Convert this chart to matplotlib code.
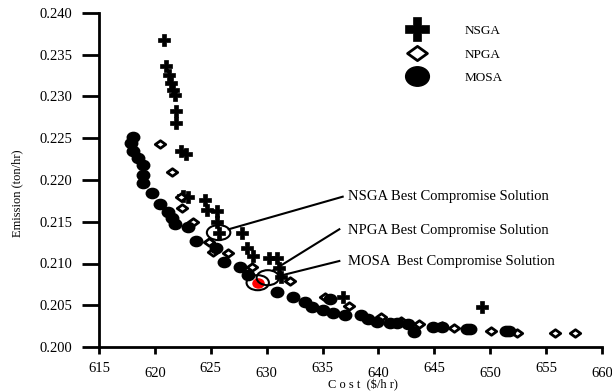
import numpy as np
import matplotlib
matplotlib.use("Agg")
import matplotlib.pyplot as plt
from matplotlib.path import Path
from matplotlib.patches import Ellipse
from matplotlib.transforms import Affine2D, blended_transform_factory

plt.rcParams['font.family'] = ['Liberation Serif', 'DejaVu Serif']

# ---- data ----
nsga_cost = [620.8, 621.0, 621.3, 621.4, 621.6, 621.8, 621.9, 621.9, 622.3, 622.8,
             622.5, 623.0, 624.5, 624.7, 625.6, 625.6, 625.7, 627.8, 628.2, 628.8,
             630.2, 630.9, 631.1, 631.3, 636.8, 649.3]
nsga_emis = [0.2368, 0.2337, 0.2326, 0.2316, 0.2308, 0.2302, 0.2283, 0.2268, 0.2235, 0.2231,
             0.2181, 0.2180, 0.2176, 0.2164, 0.2163, 0.2150, 0.2137, 0.2137, 0.2119, 0.2109,
             0.2107, 0.2107, 0.2095, 0.2084, 0.2060, 0.2048]

npga_cost = [620.5, 621.5, 622.3, 622.4, 623.4, 624.8, 625.2, 626.5, 628.7, 632.1,
             635.2, 637.4, 640.2, 642.0, 643.6, 645.7, 646.8, 650.1, 652.4, 655.8, 657.6]
npga_emis = [0.2243, 0.2210, 0.2180, 0.2166, 0.2150, 0.2126, 0.2114, 0.2113, 0.2096, 0.2079,
             0.2060, 0.2049, 0.2036, 0.2031, 0.2028, 0.2025, 0.2023, 0.2019, 0.2017, 0.2017, 0.2017]

mosa_cost = [618.0, 617.9, 618.0, 618.5, 618.9, 618.9, 618.9, 619.7, 620.5, 621.2,
             621.5, 621.8, 623.0, 623.7, 625.5, 626.2, 627.6, 628.3, 630.9, 632.4,
             633.4, 634.1, 635.0, 635.7, 635.9, 637.0, 638.4, 639.1, 639.9, 641.0,
             641.7, 642.6, 643.2, 644.9, 645.7, 647.9, 648.2, 651.4, 651.7]
mosa_emis = [0.2251, 0.2244, 0.2235, 0.2226, 0.2218, 0.2206, 0.2196, 0.2184, 0.2171, 0.2162,
             0.2154, 0.2147, 0.2144, 0.2127, 0.2119, 0.2102, 0.2096, 0.2086, 0.2066, 0.2060,
             0.2054, 0.2048, 0.2044, 0.2057, 0.2041, 0.2038, 0.2038, 0.2034, 0.2030, 0.2029,
             0.2029, 0.2028, 0.2018, 0.2024, 0.2024, 0.2022, 0.2022, 0.2019, 0.2019]

mosa_best = (629.2, 0.2077)
nsga_best = (625.7, 0.2137)
npga_best = (630.1, 0.2083)

x_ticks = [615, 620, 625, 630, 635, 640, 645, 650, 655, 660]
y_ticks = [0.200, 0.205, 0.210, 0.215, 0.220, 0.225, 0.230, 0.235, 0.240]

# ---- markers ----
ell_marker = Path.unit_circle().transformed(Affine2D().scale(1.0, 0.82))
dia_marker = Path([(1, 0), (0, 0.72), (-1, 0), (0, -0.72), (1, 0)],
                  [Path.MOVETO, Path.LINETO, Path.LINETO, Path.LINETO, Path.CLOSEPOLY])

fig = plt.figure(figsize=(6.12, 3.92), dpi=100)
ax = fig.add_axes([99/612, 1-347/392, (602-99)/612, (347-13)/392])

ax.plot(nsga_cost, nsga_emis, linestyle='none', marker='P', ms=9, color='black',
        mec='black', mew=0.5, label='NSGA', zorder=3)
ax.plot(npga_cost, npga_emis, linestyle='none', marker=dia_marker, ms=7.5, mfc='white',
        mec='black', mew=2.0, label='NPGA', zorder=3)
ax.plot(mosa_cost, mosa_emis, linestyle='none', marker=ell_marker, ms=9, color='black',
        label='MOSA', zorder=3)
ax.plot([mosa_best[0]], [mosa_best[1]], linestyle='none', marker=ell_marker, ms=8,
        color='red', zorder=4)

# ellipses around best compromise solutions
for (cx, cy), w in [(nsga_best, 2.1), (mosa_best, 2.0), (npga_best, 2.0)]:
    ax.add_patch(Ellipse((cx, cy), w, 0.0018, fill=False, ec='black', lw=1.5, zorder=5))

# annotation lines and texts
lines = [((626.6, 0.2141), (636.8, 0.2180)),
         ((630.6, 0.2092), (636.5, 0.2141)),
         ((631.1, 0.2085), (636.5, 0.2103))]
for (x0, y0), (x1, y1) in lines:
    ax.plot([x0, x1], [y0, y1], color='black', lw=1.5, zorder=5)

ann_kw = dict(fontsize=10.5, va='center', ha='left')
ax.text(637.3, 0.2180, 'NSGA Best Compromise Solution', **ann_kw)
ax.text(637.3, 0.2139, 'NPGA Best Compromise Solution', **ann_kw)
ax.text(637.3, 0.2102, 'MOSA  Best Compromise Solution', **ann_kw)

ax.set_xlim(615, 660)
ax.set_ylim(0.200, 0.240)
ax.set_xticks(x_ticks)
ax.set_yticks(y_ticks)
ax.set_yticklabels([f'{v:.3f}' for v in y_ticks])
ax.set_xticklabels([])

for s in ['top', 'right']:
    ax.spines[s].set_visible(False)
for s in ['left', 'bottom']:
    ax.spines[s].set_linewidth(2.0)
ax.tick_params(axis='x', direction='out', length=5, width=2.0)
ax.tick_params(axis='y', direction='out', length=12, width=2.0, labelsize=10.5, pad=7)

# staggered x tick labels
trans = blended_transform_factory(ax.transData, ax.transAxes)
for i, v in enumerate(x_ticks):
    yy = -0.063 if i % 2 == 0 else -0.079
    ax.text(v, yy, str(v), transform=trans, fontsize=10.5, ha='center', va='center')

ax.set_ylabel('Emission (ton/hr)', fontsize=9)
ax.yaxis.set_label_coords(-0.15, 0.46)
ax.text(0.525, -0.113, 'C o s t  ($/h r)', transform=ax.transAxes, fontsize=9,
        ha='center', va='center')

leg = ax.legend(loc='upper left', bbox_to_anchor=(300/503, 1.0), frameon=False,
                fontsize=9.5, markerscale=1.9, handlelength=1.0, handletextpad=3.1,
                labelspacing=0.85)

fig.savefig('out.png', dpi=100)
